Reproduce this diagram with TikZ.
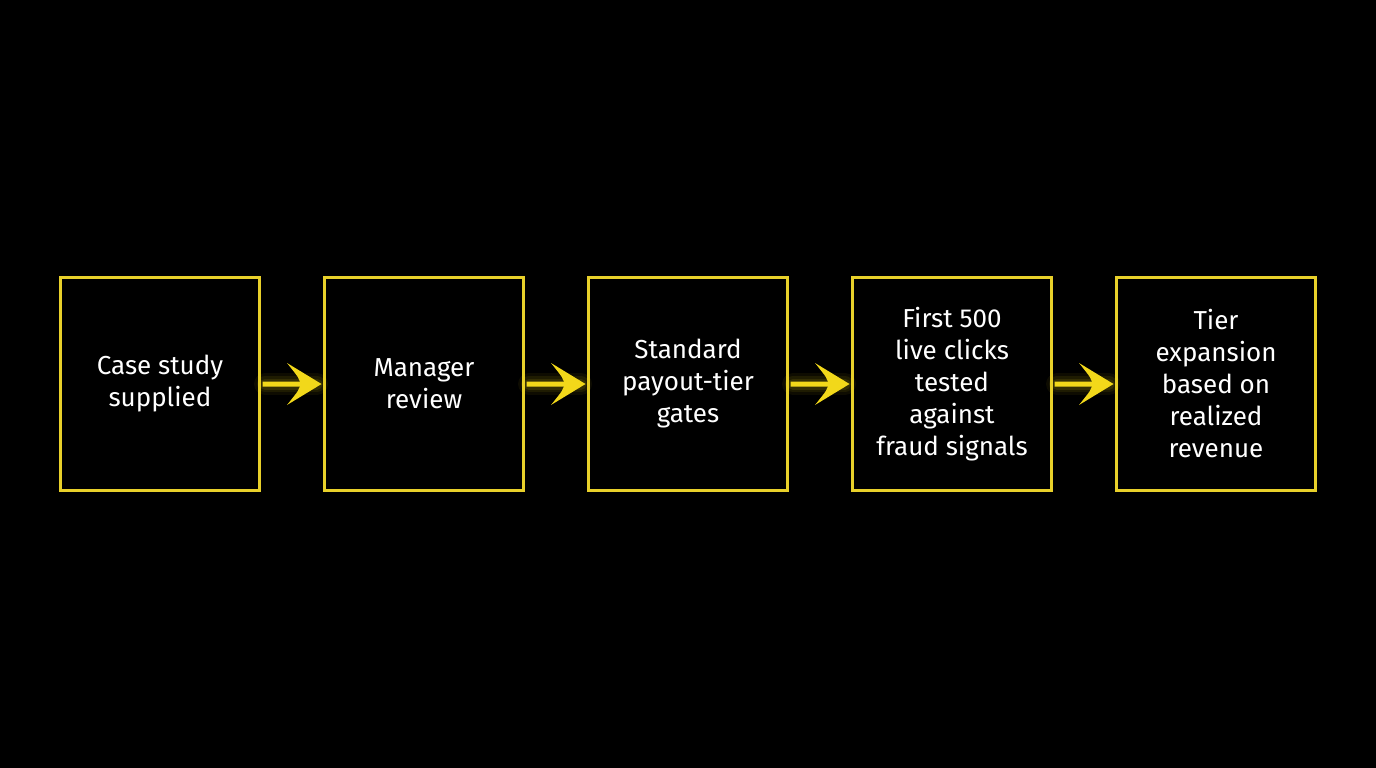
\documentclass[tikz,border=0pt]{standalone}
\usepackage{fontspec}
\setmainfont{Fira Sans}
\begin{document}
\begin{tikzpicture}[x=1pt,y=-1pt,
  box/.style={draw=boxy,line width=3pt,fill=black,minimum width=199pt,minimum height=213pt,inner sep=0pt,
    align=center,text=white,font=\fontsize{26}{32}\selectfont},
  ]
\definecolor{boxy}{HTML}{E8D02A}
\definecolor{arry}{HTML}{F2D81A}
\fill[black] (0,0) rectangle (1376,768);
\node[box] (a) at (160,384) {Case study\\supplied};
\node[box] (b) at (424,384) {Manager\\review};
\node[box] (c) at (688,384) {Standard\\payout-tier\\gates};
\node[box] (d) at (952,384) {First 500\\live clicks\\tested\\against\\fraud signals};
\node[box] (e) at (1216,384) {Tier\\expansion\\based on\\realized\\revenue};
\foreach \s/\t in {a/b,b/c,c/d,d/e}{
  \path (\s.east) coordinate (p) (\t.west) coordinate (q);
  \foreach \w/\o in {22/0.06,16/0.08,11/0.1}{
    \draw[arry,line width=\w pt,opacity=\o,line cap=round] ([xshift=4pt]p) -- ([xshift=-6pt]q);}
  \fill[arry] ([xshift=1.5pt,yshift=-2.5pt]p) -- ([xshift=-14pt,yshift=-2.5pt]q) -- ([xshift=-2pt]q)
     -- ([xshift=-14pt,yshift=2.5pt]q) -- ([xshift=1.5pt,yshift=2.5pt]p) -- cycle;
  \fill[arry] ([xshift=-1.5pt]q) -- ([xshift=-36pt,yshift=-21pt]q) .. controls ([xshift=-24pt,yshift=-6pt]q) .. ([xshift=-22pt]q)
     .. controls ([xshift=-24pt,yshift=6pt]q) .. ([xshift=-36pt,yshift=21pt]q) -- cycle;
}
\end{tikzpicture}
\end{document}
